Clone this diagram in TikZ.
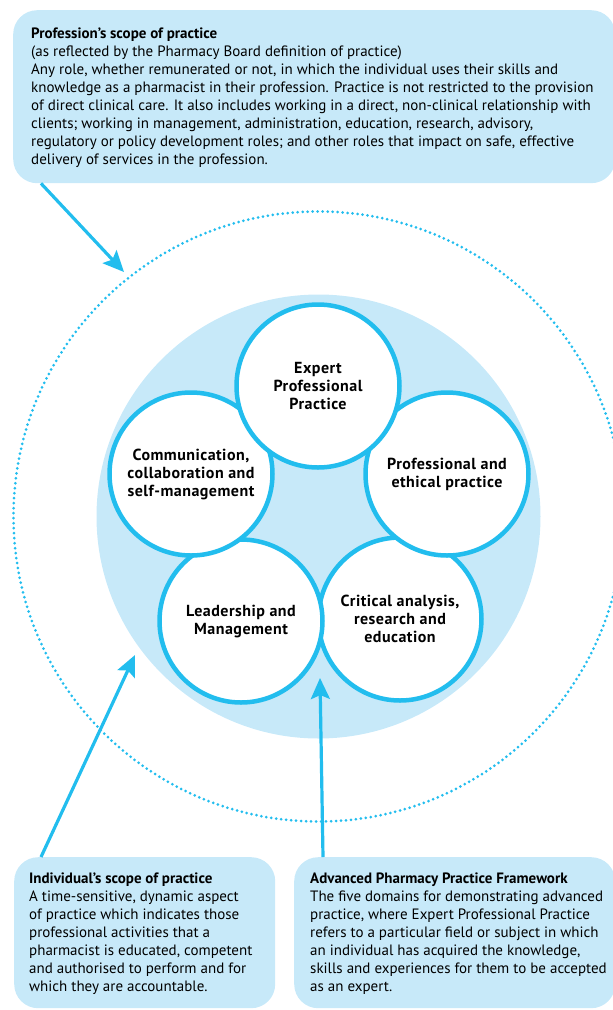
\documentclass[tikz,border=0pt]{standalone}
\usepackage{fontspec}
\setmainfont{PT Sans}
\newfontfamily\domfont{PT Sans}[LetterSpace=3.0]
\usetikzlibrary{arrows.meta}
\definecolor{pcyan}{HTML}{22BDEE}
\definecolor{plight}{HTML}{C7E9F9}

\begin{document}
\begin{tikzpicture}[x=1pt,y=-1pt,
box/.style={fill=plight, rounded corners=24pt, inner sep=0pt, anchor=north west},
txt/.style={anchor=north west, align=left, inner sep=0pt,
                font=\fontsize{15}{17.9}\selectfont},
dom/.style={circle, draw=pcyan, line width=4.5pt, fill=white,
                minimum size=163pt, inner sep=0pt, align=center,
                font=\domfont\fontsize{16}{18}\selectfont\bfseries},
arr/.style={draw=pcyan, line width=3.2pt,
                -{Stealth[length=21pt,width=19pt,inset=4pt]}}]
    \useasboundingbox (0,0) rectangle (613,1010);
    \node[box, minimum width=602pt, minimum height=173pt] (prof) at (13,10) {};
    \node[box, minimum width=261pt, minimum height=151pt] (indiv) at (14,857) {};
    \node[box, minimum width=321pt, minimum height=151pt] (appf) at (294,857) {};
    \node[txt] (proftxt) at (31,28) {\textbf{Profession’s scope of practice}\\
        (as reflected by the Pharmacy Board definition of practice)\\
        Any role, whether remunerated or not, in which the individual uses their skills and\\
        knowledge as a pharmacist in their profession. Practice is not restricted to the provision\\
        of direct clinical care. It also includes working in a direct, non-clinical relationship with\\
        clients; working in management, administration, education, research, advisory,\\
        regulatory or policy development roles; and other roles that impact on safe, effective\\
        delivery of services in the profession.};
    \node[txt] (indivtxt) at (29,873) {\textbf{Individual’s scope of practice}\\
        A time-sensitive, dynamic aspect\\
        of practice which indicates those\\
        professional activities that a\\
        pharmacist is educated, competent\\
        and authorised to perform and for\\
        which they are accountable.};
    \node[txt] (appftxt) at (310,873) {\textbf{Advanced Pharmacy Practice Framework}\\
        The five domains for demonstrating advanced\\
        practice, where Expert Professional Practice\\
        refers to a particular field or subject in which\\
        an individual has acquired the knowledge,\\
        skills and experiences for them to be accepted\\
        as an expert.};
    \draw [pcyan, line width=3pt, line cap=round, dash pattern=on 0pt off 5pt]
          (318.5,516.5) circle [radius=305pt];
    \fill [plight] (318.5,516.5) circle [radius=222pt];
    \node[dom] (crit) at (400,619) {Critical analysis,\\research and\\education};
    \node[dom] (lead) at (241,621) {Leadership and\\Management};
    \node[dom] (comm) at (191,474) {Communication,\\collaboration and\\self-management};
    \node[dom] (ethic) at (447,474) {Professional and\\ethical practice};
    \node[dom] (expert) at (318,386) {Expert\\Professional\\Practice};
    \coordinate (scope) at (124,272);
    \coordinate (indivtip) at (135,655);
    \coordinate (appftip) at (320,678);
    \draw[arr] ([xshift=28pt]prof.south west) -- (scope);
    \draw[arr] ([xshift=27pt]indiv.north west) -- (indivtip);
    \draw[arr] ([xshift=29pt]appf.north west) -- (appftip);
\end{tikzpicture}
\end{document}
